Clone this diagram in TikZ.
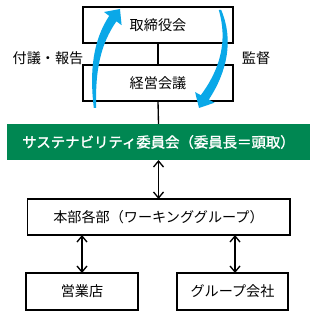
\documentclass[tikz,border=0pt]{standalone}
\usepackage{fontspec}
\setmainfont{Noto Sans CJK JP}
\newfontfamily\cjkbold[FakeBold=1.6]{Noto Sans CJK JP}
\usetikzlibrary{arrows.meta}
\definecolor{sgreen}{RGB}{0,135,82}
\definecolor{sblue}{RGB}{10,168,232}
\begin{document}
\begin{tikzpicture}[x=0.75pt,y=-0.75pt,
  box/.style={draw=black,line width=1pt,fill=white,inner sep=0pt,outer sep=0pt,font=\fontsize{10.6}{12}\selectfont},
  gbox/.style={fill=sgreen,inner sep=0pt,outer sep=0pt,text=white,font=\cjkbold\fontsize{10.8}{12}\selectfont},
  lbl/.style={font=\fontsize{10.6}{12}\selectfont,inner sep=0pt},
  conn/.style={line width=1pt},
  biarrow/.style={line width=1pt,{Straight Barb[length=4.5pt,width=7.5pt]}-{Straight Barb[length=4.5pt,width=7.5pt]}}]
\useasboundingbox (0,0) rectangle (316,317);
\node[box,minimum width=112.5pt,minimum height=27pt] (bod) at (158,25) {取締役会};
\node[box,minimum width=112.5pt,minimum height=27pt] (mgmt) at (158,83) {経営会議};
\node[gbox,minimum width=227pt,minimum height=27pt] (sus) at (158.5,142) {サステナビリティ委員会（委員長＝頭取）};
\node[box,minimum width=197pt,minimum height=27pt] (hq) at (158.5,217) {本部各部（ワーキンググループ）};
\node[box,minimum width=84pt,minimum height=27.75pt] (br) at (82,291.5) {営業店};
\node[box,minimum width=83.25pt,minimum height=27.75pt] (grp) at (232.5,291.5) {グループ会社};
\node[lbl] (l1) at (48,58) {付議・報告};
\node[lbl] (l2) at (256,58) {監督};
\draw[conn] (bod.south) -- (mgmt.north);
\draw[conn] (mgmt.south) -- (sus.north);
\draw[biarrow] (sus.south) -- (hq.north);
\draw[biarrow] (hq.south -| br.north) -- (br.north);
\draw[biarrow] (hq.south -| 235,0) -- (grp.north -| 235,0);
% left blue arrow (up)
\fill[sblue] (93.8,108) .. controls (89.3,70) and (93.3,40) .. (109.2,15.9)
  -- (104,12) -- (120,9) -- (121.6,25.2) -- (116.4,21.3)
  .. controls (100.7,44) and (95,70) .. (96.2,108) -- cycle;
% right blue arrow (down)
\fill[sblue] (221.2,10) .. controls (234,40) and (227,72) .. (208.8,99.6)
  -- (214.5,102.7) -- (199,108) -- (195.1,92.1) -- (200.8,95.2)
  .. controls (221,68) and (227.5,40) .. (218.8,10) -- cycle;
\end{tikzpicture}
\end{document}
